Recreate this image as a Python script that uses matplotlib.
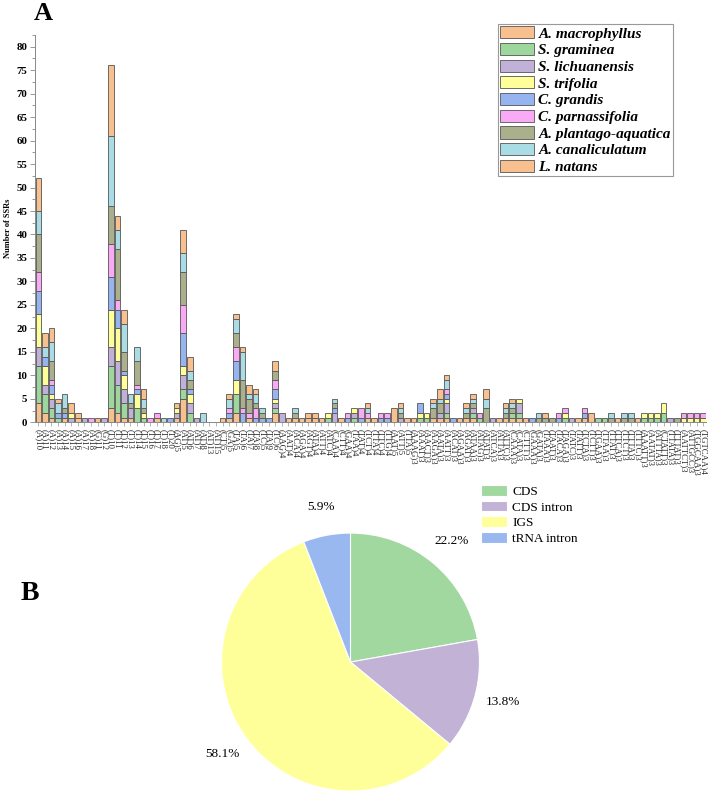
import numpy as np
import matplotlib
matplotlib.use('Agg')
from matplotlib import pyplot as plt
from matplotlib.ticker import MultipleLocator

plt.rcParams['font.family'] = ['Liberation Serif', 'DejaVu Serif']

# SSR motif categories (x axis of panel A)
motifs = ['(A)10', '(A)11', '(A)12', '(A)13', '(A)14', '(A)15', '(A)16', '(A)17', '(A)18', '(G)11',
          '(G)12', '(T)10', '(T)11', '(T)12', '(T)13', '(T)14', '(T)15', '(T)16', '(T)17', '(T)18',
          '(T)20', '(AG)5', '(AT)5', '(AT)6', '(AT)7', '(AT)8', '(AT)13', '(AT)15', '(CT)5', '(GA)5',
          '(TA)5', '(TA)6', '(TA)7', '(TA)8', '(TC)5', '(TA)9', '(TC)6', '(AAG)4', '(AAT)4', '(ACA)4',
          '(AGA)4', '(AGT)4', '(ATA)4', '(ATT)4', '(ATC)4', '(CAA)4', '(CTT)4', '(GAA)4', '(TAA)4', '(TAT)4',
          '(TCT)4', '(TTA)4', '(TTC)4', '(TTG)4', '(AAT)5', '(ATT)5', '(TTA)5', '(AAAG)3', '(AAAT)3', '(AACT)3',
          '(AAGA)3', '(AATA)3', '(AATT)3', '(ACAT)3', '(AGAA)3', '(AGAT)3', '(ATAA)3', '(ATAG)3', '(ATAT)3', '(ATCA)3',
          '(ATTA)3', '(ATTC)3', '(CAAA)3', '(CATA)3', '(CTTT)3', '(GAAA)3', '(GATA)3', '(TAAA)3', '(TAAT)3', '(TACA)3',
          '(TAGA)3', '(TATC)3', '(TATT)3', '(TCTA)3', '(TCTT)3', '(TGAA)3', '(TTAA)3', '(TTAT)3', '(TTCA)3', '(TTCT)3',
          '(TTTA)3', '(TTTC)3', '(AAATT)3', '(AATAT)3', '(ATTTA)3', '(CTATT)3', '(TTATA)3', '(TTTAT)3', '(AATTCT)3', '(ATTGCC)3',
          '(TGGCAA)3', '(TGTCAA)4']

species = ['A. macrophyllus', 'S. graminea', 'S. lichuanensis', 'S. trifolia', 'C. grandis',
           'C. parnassifolia', 'A. plantago-aquatica', 'A. canaliculatum', 'L. natans']

# SSR counts per species, one value per motif
a_macrophyllus = [4, 2, 1, 0, 1, 0, 1, 0, 0, 1,
                  0, 3, 2, 1, 1, 0, 0, 0, 1, 0,
                  0, 1, 5, 0, 0, 0, 0, 0, 1, 1,
                  2, 0, 1, 0, 0, 0, 2, 0, 1, 1,
                  1, 1, 1, 1, 0, 0, 1, 0, 0, 0,
                  1, 1, 0, 0, 3, 0, 1, 1, 0, 0,
                  1, 1, 1, 0, 1, 1, 1, 0, 0, 0,
                  1, 1, 1, 1, 1, 0, 0, 0, 0, 0,
                  0, 0, 1, 1, 2, 0, 0, 0, 1, 0,
                  0, 1, 0, 0, 0, 0, 0, 0, 0, 0,
                  0, 0]
s_graminea = [8, 4, 2, 1, 0, 0, 0, 0, 0, 0,
              0, 9, 6, 3, 0, 3, 1, 0, 0, 0,
              0, 0, 2, 2, 0, 0, 0, 0, 0, 0,
              4, 0, 0, 0, 0, 0, 1, 0, 0, 0,
              0, 0, 0, 0, 1, 0, 0, 0, 1, 0,
              0, 0, 0, 0, 0, 0, 0, 0, 1, 1,
              0, 0, 1, 0, 0, 0, 1, 1, 0, 0,
              0, 0, 1, 1, 0, 0, 0, 0, 0, 0,
              1, 0, 0, 0, 0, 1, 1, 0, 0, 0,
              0, 0, 1, 1, 1, 2, 0, 0, 0, 0,
              0, 0]
s_lichuanensis = [4, 2, 2, 0, 0, 1, 0, 1, 0, 0,
                  1, 4, 5, 3, 2, 0, 0, 0, 0, 0,
                  0, 1, 3, 2, 1, 0, 0, 0, 0, 0,
                  0, 0, 0, 0, 0, 0, 1, 2, 0, 0,
                  0, 0, 0, 0, 0, 2, 0, 0, 1, 0,
                  0, 0, 0, 0, 0, 1, 0, 0, 0, 0,
                  0, 1, 2, 0, 0, 0, 1, 0, 0, 1,
                  0, 0, 0, 2, 0, 0, 0, 0, 0, 0,
                  0, 1, 0, 0, 0, 0, 0, 0, 0, 0,
                  0, 0, 0, 0, 0, 0, 1, 0, 0, 0,
                  0, 0]
s_trifolia = [7, 4, 1, 0, 0, 1, 0, 0, 0, 0,
              0, 8, 7, 3, 0, 3, 1, 0, 0, 0,
              0, 1, 2, 2, 0, 0, 0, 0, 0, 0,
              3, 0, 0, 0, 0, 0, 1, 0, 0, 0,
              0, 0, 0, 0, 1, 0, 0, 0, 1, 0,
              0, 0, 0, 0, 0, 0, 0, 0, 1, 1,
              0, 0, 1, 0, 0, 0, 0, 0, 0, 0,
              0, 0, 0, 1, 0, 0, 0, 0, 0, 0,
              1, 0, 0, 0, 0, 0, 0, 0, 0, 0,
              0, 0, 1, 1, 1, 2, 0, 0, 1, 1,
              1, 1]
c_grandis = [5, 2, 2, 1, 1, 0, 0, 0, 0, 0,
             0, 7, 4, 1, 0, 1, 0, 0, 0, 0,
             1, 0, 7, 1, 0, 0, 0, 0, 0, 1,
             4, 2, 0, 1, 1, 1, 2, 0, 0, 0,
             0, 0, 0, 0, 0, 1, 0, 1, 0, 1,
             0, 0, 1, 1, 0, 0, 0, 0, 2, 0,
             0, 0, 1, 1, 0, 0, 0, 0, 0, 0,
             0, 0, 0, 0, 0, 1, 0, 0, 0, 1,
             0, 0, 0, 1, 0, 0, 0, 0, 0, 0,
             0, 0, 0, 0, 0, 0, 0, 0, 0, 0,
             0, 0]
c_parnassifolia = [4, 0, 1, 0, 0, 0, 0, 0, 1, 0,
                   0, 7, 2, 0, 0, 1, 0, 1, 1, 0,
                   0, 0, 6, 0, 0, 0, 0, 0, 0, 1,
                   3, 1, 1, 2, 0, 0, 2, 0, 0, 0,
                   0, 0, 0, 0, 0, 0, 0, 1, 0, 2,
                   1, 0, 1, 1, 0, 0, 0, 0, 0, 0,
                   0, 0, 1, 0, 0, 0, 0, 1, 0, 0,
                   0, 0, 0, 0, 0, 0, 0, 0, 0, 1,
                   1, 0, 0, 1, 0, 0, 0, 0, 0, 0,
                   0, 0, 0, 0, 0, 0, 0, 0, 1, 1,
                   1, 1]
a_plantago = [8, 0, 4, 0, 1, 0, 0, 0, 0, 0,
              0, 8, 11, 4, 1, 5, 1, 0, 0, 0,
              0, 0, 7, 2, 0, 0, 0, 0, 0, 0,
              3, 6, 3, 1, 1, 0, 2, 0, 0, 1,
              0, 0, 0, 0, 0, 1, 0, 0, 0, 0,
              0, 0, 0, 0, 0, 1, 0, 0, 0, 0,
              2, 2, 0, 0, 0, 1, 1, 0, 3, 0,
              0, 1, 1, 0, 0, 0, 1, 1, 1, 0,
              0, 0, 0, 0, 0, 0, 0, 1, 0, 1,
              1, 0, 0, 0, 0, 0, 0, 1, 0, 0,
              0, 0]
a_canaliculatum = [5, 2, 4, 2, 3, 0, 0, 0, 0, 0,
                   0, 15, 4, 6, 2, 3, 2, 0, 0, 1,
                   0, 0, 4, 2, 0, 2, 0, 0, 0, 2,
                   3, 6, 1, 2, 1, 0, 0, 0, 0, 1,
                   0, 0, 0, 0, 0, 1, 0, 0, 0, 0,
                   1, 0, 0, 0, 0, 1, 0, 0, 0, 0,
                   1, 1, 2, 0, 0, 1, 1, 0, 2, 0,
                   0, 1, 1, 0, 0, 0, 1, 0, 0, 0,
                   0, 0, 0, 0, 0, 0, 0, 1, 0, 1,
                   1, 0, 0, 0, 0, 0, 0, 0, 0, 0,
                   0, 0]
l_natans = [7, 3, 3, 1, 0, 2, 1, 0, 0, 0,
            0, 15, 3, 3, 0, 0, 2, 0, 0, 0,
            0, 1, 5, 3, 0, 0, 0, 0, 0, 1,
            1, 1, 2, 1, 0, 0, 2, 0, 0, 0,
            0, 1, 1, 0, 0, 0, 0, 0, 0, 0,
            1, 0, 0, 0, 0, 1, 0, 0, 0, 0,
            1, 2, 1, 0, 0, 1, 1, 0, 2, 0,
            0, 1, 1, 0, 0, 0, 0, 1, 0, 0,
            0, 0, 0, 0, 0, 0, 0, 0, 0, 0,
            0, 0, 0, 0, 0, 0, 0, 0, 0, 0,
            0, 0]

species_colors = ['#F8C08F', '#9ED79E', '#C1B1D8', '#FFFF99', '#96B5F0',
                  '#F9AAF4', '#AAAF8C', '#AADCE6', '#F8C08F']

# panel B: SSR location
regions = ['CDS', 'CDS intron', 'IGS', 'tRNA intron']
region_pct = [22.2, 13.8, 58.1, 5.9]
region_colors = ['#A0D8A0', '#C2B2D6', '#FFFF99', '#99B8F0']

fig = plt.figure(figsize=(7.09, 7.93), dpi=100)

# ---- panel A: stacked bars ----
ax = fig.add_axes([0.0494, 0.4675, 0.947, 0.4884])
counts = [a_macrophyllus, s_graminea, s_lichuanensis, s_trifolia, c_grandis,
          c_parnassifolia, a_plantago, a_canaliculatum, l_natans]
x = np.arange(len(motifs))
bottom = np.zeros(len(motifs))
handles = []
for name, vals, col in zip(species, counts, species_colors):
    vals = np.array(vals, dtype=float)
    lw = np.where(vals > 0, 0.6, 0.0)
    b = ax.bar(x, vals, width=0.85, bottom=bottom, color=col,
               edgecolor='#555555', linewidth=lw, label=name)
    handles.append(b)
    bottom += vals

ax.set_xlim(-0.5, len(motifs) - 0.5)
ax.set_ylim(0, 82.5)
ax.yaxis.set_major_locator(MultipleLocator(5))
ax.yaxis.set_minor_locator(MultipleLocator(2.5))
ax.set_xticks(x)
ax.set_xticklabels(motifs, rotation=270, fontsize=6.3, ha='center', va='top', color='#222222')
for lab in ax.get_yticklabels():
    lab.set_fontweight('bold')
ax.tick_params(axis='y', labelsize=7.8, length=3.5, width=0.6, color='#888888', pad=2)
ax.tick_params(axis='y', which='minor', length=2, width=0.6, color='#888888')
ax.tick_params(axis='x', length=3, width=0.5, color='#999999', pad=2)
for s in ['top', 'right']:
    ax.spines[s].set_visible(False)
for s in ['left', 'bottom']:
    ax.spines[s].set_color('#888888')
    ax.spines[s].set_linewidth(0.7)
ax.set_ylabel('Number of SSRs', fontsize=6, fontweight='bold', labelpad=3)

leg = fig.legend(handles=handles, loc='upper left', bbox_to_anchor=(498 / 709, 1 - 24 / 793),
                 prop={'size': 11, 'weight': 'bold', 'style': 'italic'},
                 handlelength=2.2, handleheight=0.85, labelspacing=0.15,
                 handletextpad=0.3, borderpad=0.15, borderaxespad=0,
                 fancybox=False, framealpha=1)
leg.get_frame().set_edgecolor('#999999')
leg.get_frame().set_linewidth(0.8)

fig.text(43 / 709, 1 - 14 / 793, 'A', fontsize=19, fontweight='bold', ha='center', va='center')

# ---- panel B: pie ----
ax2 = fig.add_axes([0.3124, 0.0025, 0.3639, 0.3253])
wedges, texts, autotexts = ax2.pie(region_pct, colors=region_colors, startangle=90,
                                   counterclock=False, autopct='%.1f%%', pctdistance=1.22,
                                   wedgeprops={'edgecolor': 'white', 'linewidth': 0.8},
                                   textprops={'fontsize': 9.5})
ax2.set_xlim(-1, 1)
ax2.set_ylim(-1, 1)
ax2.set_aspect('equal')

fig.legend(handles=wedges, labels=regions, loc='upper left',
           bbox_to_anchor=(481 / 709, 1 - 485 / 793),
           frameon=False, fontsize=9.5, handlelength=2.0, handleheight=0.88,
           labelspacing=0.2, handletextpad=0.35, borderpad=0, borderaxespad=0)

fig.text(30 / 709, 1 - 593 / 793, 'B', fontsize=20, fontweight='bold', ha='center', va='center')

fig.savefig('out.png', dpi=100)
